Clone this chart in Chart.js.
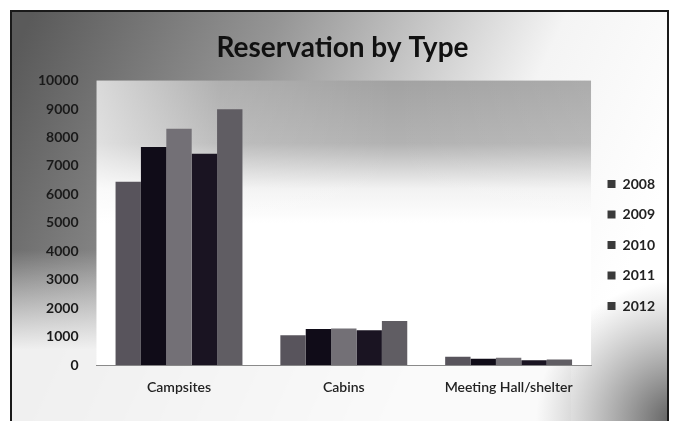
<!DOCTYPE html>
<html>
<head>
<meta charset="utf-8">
<script src="https://cdn.jsdelivr.net/npm/chart.js@4/dist/chart.umd.min.js"></script>
<style>
  html, body { margin: 0; padding: 0; background: #fff; }
  #wrap { width: 676px; height: 421px; }
</style>
</head>
<body>
<div id="wrap"><canvas id="reservationChart" width="676" height="421"></canvas></div>
<script>
'use strict';

const categories = ['Campsites', 'Cabins', 'Meeting Hall/shelter'];
const years = ['2008', '2009', '2010', '2011', '2012'];
const values2008 = [6450, 1050, 300];
const values2009 = [7670, 1270, 230];
const values2010 = [8310, 1290, 260];
const values2011 = [7430, 1230, 170];
const values2012 = [8990, 1550, 200];
const yTicks = [0, 1000, 2000, 3000, 4000, 5000, 6000, 7000, 8000, 9000, 10000];

const barColors = ['#58545c', '#100c18', '#737076', '#1a1422', '#605d63'];
const fontFamily = 'Lato, "Open Sans", sans-serif';

// gray scanned-look backgrounds and the chart frame
const backdrop = {
    id: 'backdrop',
    beforeDraw(chart) {
        const ctx = chart.ctx;
        const w = chart.width, h = chart.height;
        const a = chart.chartArea;
        ctx.save();
        ctx.fillStyle = '#ffffff';
        ctx.fillRect(0, 0, w, h);

        const outer = ctx.createLinearGradient(11, 60, 600, 330);
        outer.addColorStop(0, '#5a5a5a');
        outer.addColorStop(0.35, '#959595');
        outer.addColorStop(0.75, '#f4f4f4');
        outer.addColorStop(1, '#ffffff');
        ctx.fillStyle = outer;
        ctx.fillRect(11, 11, w - 19, h);

        const lower = ctx.createLinearGradient(0, 250, 0, 350);
        lower.addColorStop(0, 'rgba(255,255,255,0)');
        lower.addColorStop(1, 'rgba(250,250,250,0.92)');
        ctx.fillStyle = lower;
        ctx.fillRect(11, 250, 560, 100);
        ctx.fillStyle = 'rgba(250,250,250,0.92)';
        ctx.fillRect(11, 350, 560, h - 350);

        const corner = ctx.createRadialGradient(w, h, 10, w, h, 140);
        corner.addColorStop(0, '#6a6a6a');
        corner.addColorStop(1, 'rgba(140,140,140,0)');
        ctx.fillStyle = corner;
        ctx.fillRect(500, 280, w - 508, h - 280);

        // plot area: gray at the top fading to white
        const inner = ctx.createLinearGradient(0, a.top, 0, a.bottom);
        inner.addColorStop(0, '#a2a2a2');
        inner.addColorStop(0.22, '#b2b2b2');
        inner.addColorStop(0.38, '#f2f2f2');
        inner.addColorStop(0.5, '#ffffff');
        inner.addColorStop(1, '#ffffff');
        ctx.fillStyle = inner;
        ctx.fillRect(a.left, a.top, a.right - a.left, a.bottom - a.top);

        const side = ctx.createLinearGradient(a.left, 0, a.right, 0);
        side.addColorStop(0, 'rgba(255,255,255,0.6)');
        side.addColorStop(0.25, 'rgba(255,255,255,0.15)');
        side.addColorStop(0.6, 'rgba(255,255,255,0)');
        side.addColorStop(1, 'rgba(255,255,255,0.1)');
        ctx.fillStyle = side;
        ctx.fillRect(a.left, a.top, a.right - a.left, a.bottom - a.top);

        ctx.strokeStyle = '#1a1a1a';
        ctx.lineWidth = 2;
        ctx.strokeRect(11, 11, w - 19, h + 10);
        ctx.restore();
    }
};

const ctx = document.getElementById('reservationChart').getContext('2d');
const seriesValues = [values2008, values2009, values2010, values2011, values2012];

new Chart(ctx, {
    type: 'bar',
    data: {
        labels: categories,
        datasets: years.map((year, i) => ({
            label: year,
            data: seriesValues[i],
            backgroundColor: barColors[i],
            borderWidth: 0,
            barPercentage: 1.0,
            categoryPercentage: 0.77
        }))
    },
    options: {
        responsive: false,
        animation: false,
        layout: { padding: { top: 12, left: 20, right: 11, bottom: 11 } },
        plugins: {
            title: {
                display: true,
                text: 'Reservation by Type',
                color: '#111',
                font: { family: fontFamily, size: 28, weight: 'bold' },
                padding: { top: 19, bottom: 16 }
            },
            legend: {
                position: 'right',
                align: 'center',
                title: {
                    display: true,
                    text: '',
                    font: { size: 10 },
                    padding: { top: 0, bottom: 56 }
                },
                labels: {
                    color: '#222',
                    font: { family: fontFamily, size: 14, weight: 'bold' },
                    boxWidth: 8,
                    boxHeight: 8,
                    padding: 16.5,
                    generateLabels(chart) {
                        const items = Chart.defaults.plugins.legend.labels.generateLabels(chart);
                        items.forEach(item => {
                            item.fillStyle = '#3a3a3a';
                            item.strokeStyle = '#3a3a3a';
                            item.lineWidth = 0;
                        });
                        return items;
                    }
                }
            },
            tooltip: { enabled: false }
        },
        scales: {
            x: {
                grid: { display: false, drawTicks: false },
                border: { display: true, color: '#8a8a8a', width: 1 },
                ticks: {
                    color: '#222',
                    padding: 14,
                    font: { family: fontFamily, size: 14, weight: '600' }
                }
            },
            y: {
                min: 0,
                max: 10000,
                afterBuildTicks(axis) {
                    axis.ticks = yTicks.map(v => ({ value: v }));
                },
                grid: { display: false, drawTicks: false },
                border: { display: false },
                ticks: {
                    color: '#1a1a1a',
                    padding: 18,
                    font: { family: fontFamily, size: 14, weight: 'bold' },
                    callback: value => String(value)
                }
            }
        }
    },
    plugins: [backdrop]
});
</script>
</body>
</html>
